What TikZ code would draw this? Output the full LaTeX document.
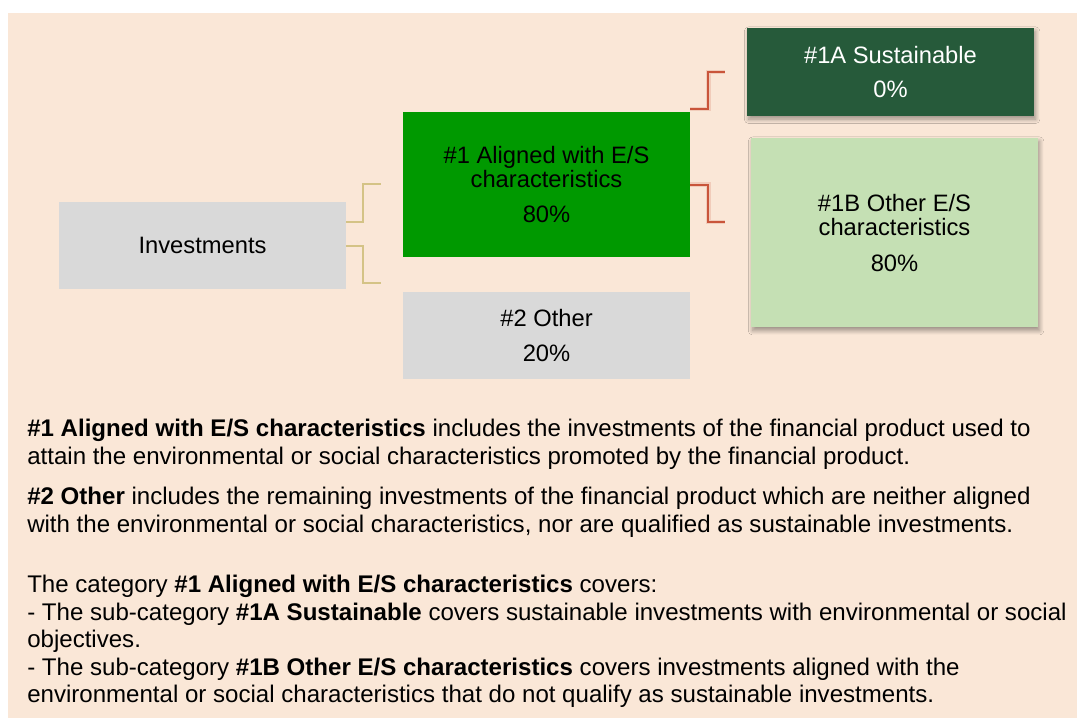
\documentclass[tikz,border=0pt]{standalone}
\usepackage{fontspec}
\setmainfont{Liberation Sans}
\usetikzlibrary{shadows.blur}
\definecolor{bg}{HTML}{FAE7D7}
\definecolor{boxgray}{HTML}{D9D9D9}
\definecolor{midgreen}{HTML}{009900}
\definecolor{darkgreen}{HTML}{265A3A}
\definecolor{lightgreen}{HTML}{C5E0B4}
\definecolor{beige}{HTML}{D4C386}
\definecolor{rust}{HTML}{C9553A}
\begin{document}
\begin{tikzpicture}[x=0.75pt,y=-0.75pt,
  box/.style={rectangle, inner sep=0pt, align=center, minimum width=215.25pt,
    font=\fontsize{17.8}{18.4}\selectfont, text=black},
  shade/.style={blur shadow={shadow xshift=1.2pt, shadow yshift=-2.4pt,
    shadow blur radius=3.2pt, shadow blur steps=10, shadow opacity=38}},
  body/.style={anchor=base west, inner sep=0pt, font=\fontsize{18.05}{20.6}\selectfont, text=black},
  beigeline/.style={draw=beige, line width=1.5pt},
  rustline/.style={draw=rust, line width=1.5pt},
  rustglow/.style={draw=rust, line width=3.5pt, opacity=0.18}
]
\useasboundingbox (0,0) rectangle (1077,718);
\fill[white] (0,0) rectangle (1077,718);
\fill[bg] (8,13) rectangle (1077,718);

% boxes
\node[box, fill=boxgray, minimum height=65.6pt] (inv) at (202.5,245.75) {Investments};
\node[box, fill=midgreen, minimum height=108.75pt] (a1) at (546.5,184.5)
  {\#1 Aligned with E/S\\characteristics\\[7.5pt]80\%};
\node[box, fill=boxgray, minimum height=65.25pt] (o2) at (546.5,335.5)
  {\#2 Other\\[8.5pt]20\%};
\node[box, shade, fill=darkgreen, text=white, minimum height=66pt] (s1a) at (890.5,72)
  {\#1A Sustainable\\[7pt]0\%};
\node[box, shade, fill=lightgreen, minimum height=142.1pt] (s1b) at (894.5,232.75)
  {\#1B Other E/S\\characteristics\\[8pt]80\%};

% connector ends
\coordinate (b1) at (381,184);
\coordinate (b2) at (381,283);
\coordinate (r1) at (725,72);
\coordinate (r2) at (725,222);

\draw[beigeline] ([yshift=18pt]inv.east) -- ++(17,0) |- (b1);
\draw[beigeline] (inv.east) -- ++(17,0) |- (b2);

\draw[rustglow] ([yshift=56.6pt]a1.east) -- ++(18,0) |- (r1);
\draw[rustglow] (a1.east) -- ++(18,0) |- (r2);
\draw[rustline] ([yshift=56.6pt]a1.east) -- ++(18,0) |- (r1);
\draw[rustline] (a1.east) -- ++(18,0) |- (r2);

% body text
\node[body] (l1) at (27,436) {\textbf{\#1 Aligned with E/S characteristics} includes the investments of the financial product used to};
\node[body] (l2) at (27,464) {attain the environmental or social characteristics promoted by the financial product.};
\node[body] (l3) at (27,504) {\textbf{\#2 Other} includes the remaining investments of the financial product which are neither aligned};
\node[body] (l4) at (27,532.5) {with the environmental or social characteristics, nor are qualified as sustainable investments.};
\node[body] (l5) at (27,592.5) {The category \textbf{\#1 Aligned with E/S characteristics} covers:};
\node[body] (l6) at (27,620) {- The sub-category \textbf{\#1A Sustainable} covers sustainable investments with environmental or social};
\node[body] (l7) at (27,647.5) {objectives.};
\node[body] (l8) at (27,675) {- The sub-category \textbf{\#1B Other E/S characteristics} covers investments aligned with the};
\node[body] (l9) at (27,702.5) {environmental or social characteristics that do not qualify as sustainable investments.};
\end{tikzpicture}
\end{document}
